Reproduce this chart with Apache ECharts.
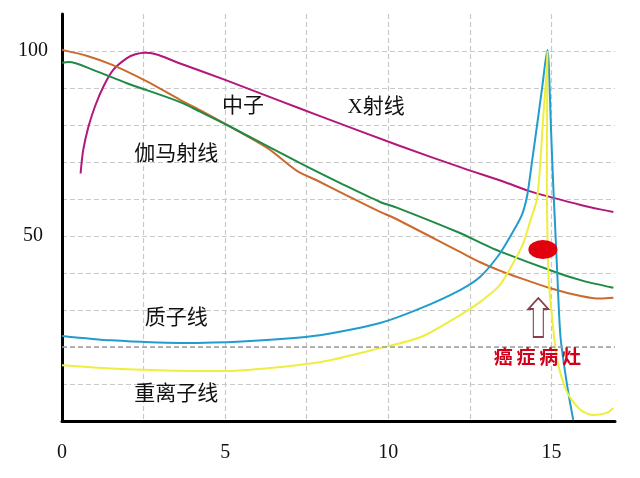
<!DOCTYPE html>
<html>
<head>
<meta charset="utf-8">
<script src="https://cdn.jsdelivr.net/npm/echarts@6/dist/echarts.min.js"></script>
<style>
html,body{margin:0;padding:0;background:#fff;}
#c{width:640px;height:478px;}
</style>
</head>
<body>
<div id="c"></div>
<script>
// ---- data ----
const xTickLabels = [0, 5, 10, 15];
const yTickLabels = [50, 100];

const xray = [[0.57,66.9],[0.65,73.2],[0.81,79.5],[1.01,85],[1.27,90.4],[1.57,94.9],[1.98,98],[2.25,99.1],[2.55,99.5],[2.85,99.2],[3.2,98.1],[3.6,96.7],[5,92.2],[6.6,86.8],[7.91,82.4],[10.28,74.6],[12.27,68.4],[13.5,64.8],[14.3,62.2],[15.07,60.3],[15.9,58.4],[16.5,57.2],[16.9,56.5]];

const neutron = [[0,100.3],[0.8,98.6],[1.56,96.2],[2.6,91.8],[3.62,86.8],[4.23,84],[5.06,80],[6.29,73.8],[7.2,67.6],[7.82,65.0],[8.83,60.5],[9.75,56.5],[10.15,55],[12.2,45.7],[12.82,42.9],[13.4,40.7],[13.8,39.4],[14.97,35.9],[15.9,33.8],[16.5,33.1],[16.9,33.3]];

const gamma = [[0,96.8],[0.2,97.0],[0.95,94.9],[1.99,91.3],[3.62,86.2],[4.23,83.6],[5.06,80],[7.3,69.7],[8.53,64.3],[9.75,59.2],[10.28,57.6],[12.2,50.8],[12.82,48.2],[13.4,45.9],[15.2,40],[16.0,37.8],[16.9,36]];

const proton = [[0,23],[1.5,21.8],[3.62,21.1],[5.5,21.5],[7.9,23.2],[9.75,26.5],[11,30.5],[12.2,35.4],[12.82,39],[13.4,45],[13.8,50.8],[14.1,55.8],[14.26,61],[14.4,69.7],[14.57,80.5],[14.72,90.3],[14.88,100.3],[14.92,96.4],[14.99,78.6],[15.05,65.1],[15.12,51.6],[15.18,40],[15.28,22.7],[15.49,9.2],[15.67,0.3]];

const heavyIon = [[0,15.1],[2,14],[4.85,13.5],[7.9,15.9],[9.75,19.7],[11,22.7],[12.2,28.6],[12.82,32.2],[13.4,36.5],[13.8,42.2],[14.14,48.1],[14.36,54.3],[14.5,58],[14.57,60.5],[14.66,69.7],[14.75,82.2],[14.85,94],[14.88,100],[14.87,85],[14.86,65],[14.88,50],[14.92,38],[15.03,27.3],[15.18,16.5],[15.49,7.6],[15.89,3],[16.29,1.6],[16.7,2.2],[16.9,3.5]];

const curveLabels = [[5.55,84.9,'中子'],[3.5,71.9,'伽马射线'],[9.63,84.6,'X射线'],[3.5,27.8,'质子线'],[3.5,7.3,'重离子线']];
const lesionLabel = [[14.57,17.3,'癌症病灶']];
const lesionSpot = [[14.74,46.35]];
const lesionArrow = [[14.6,27.97]];
const refLine = 20;

// ---- chart ----
const chart = echarts.init(document.getElementById('c'), null, {renderer:'canvas'});
const lineS = (name, data, color, smooth) => ({
  name, type:'line', data, smooth, symbol:'none',
  lineStyle:{color, width:2}, z:3
});
const gridDash = {color:'#c9c9c9', type:[5,3], width:1.2};
chart.setOption({
  backgroundColor:'#fff',
  animation:false,
  grid:{left:62, right:25, top:14, bottom:57, containLabel:false},
  xAxis:{
    type:'value', min:0, max:16.95, interval:2.5,
    axisLine:{show:true, onZero:false, lineStyle:{color:'#000', width:3}},
    axisTick:{show:false},
    axisLabel:{
      margin:22, fontFamily:'Liberation Serif', fontSize:20, color:'#111',
      showMaxLabel:false,
      formatter:v => xTickLabels.includes(v) ? String(v) : ''
    },
    splitLine:{show:true, showMinLine:false, showMaxLine:false, lineStyle:gridDash}
  },
  yAxis:{
    type:'value', min:0, max:110, interval:10,
    axisLine:{show:true, lineStyle:{color:'#000', width:3}},
    axisTick:{show:false},
    axisLabel:{
      margin:29, align:'center', verticalAlign:'middle', fontFamily:'Liberation Serif', fontSize:20, color:'#111',
      formatter:v => yTickLabels.includes(v) ? String(v) : ''
    },
    splitLine:{show:true, showMinLine:false, showMaxLine:false, lineStyle:gridDash}
  },
  series:[
    Object.assign(lineS('X射线', xray, '#b3177c', 0.3), {
      markLine:{silent:true, symbol:'none', label:{show:false},
        lineStyle:{color:'#a0a0a0', type:[5,3], width:1.6},
        data:[{yAxis:refLine}]}
    }),
    lineS('中子', neutron, '#cc6a2e', 0.3),
    lineS('伽马射线', gamma, '#1f8a45', 0.3),
    lineS('质子线', proton, '#229ccc', 0.25),
    lineS('重离子线', heavyIon, '#eeee40', 0.25),
    {
      type:'scatter', data:lesionSpot, symbol:'circle', symbolSize:[29,19],
      itemStyle:{color:'#e2000f', opacity:1}, z:5, silent:true
    },
    {
      type:'scatter', data:lesionArrow,
      symbol:'path://M10,0 L20,11 L15,11 L15,39 L5,39 L5,11 L0,11 Z',
      symbolSize:[20,39], symbolKeepAspect:false,
      itemStyle:{color:'#fff', borderColor:'#8c3b4b', borderWidth:1.5, opacity:1}, z:5, silent:true
    },
    {
      type:'scatter', data:curveLabels, symbolSize:0, z:6, silent:true,
      itemStyle:{opacity:1},
      label:{show:true, position:'inside', formatter:p => p.value[2],
        fontFamily:'Liberation Serif, Noto Sans CJK SC', fontSize:21, color:'#111'}
    },
    {
      type:'scatter', data:lesionLabel, symbolSize:0, z:6, silent:true,
      itemStyle:{opacity:1},
      label:{show:true, position:'inside', formatter:p => p.value[2].split('').join('\u2009'),
        fontFamily:'Noto Sans CJK SC', fontWeight:'bold', fontSize:19, color:'#d0021b'}
    }
  ]
});
</script>
</body>
</html>
